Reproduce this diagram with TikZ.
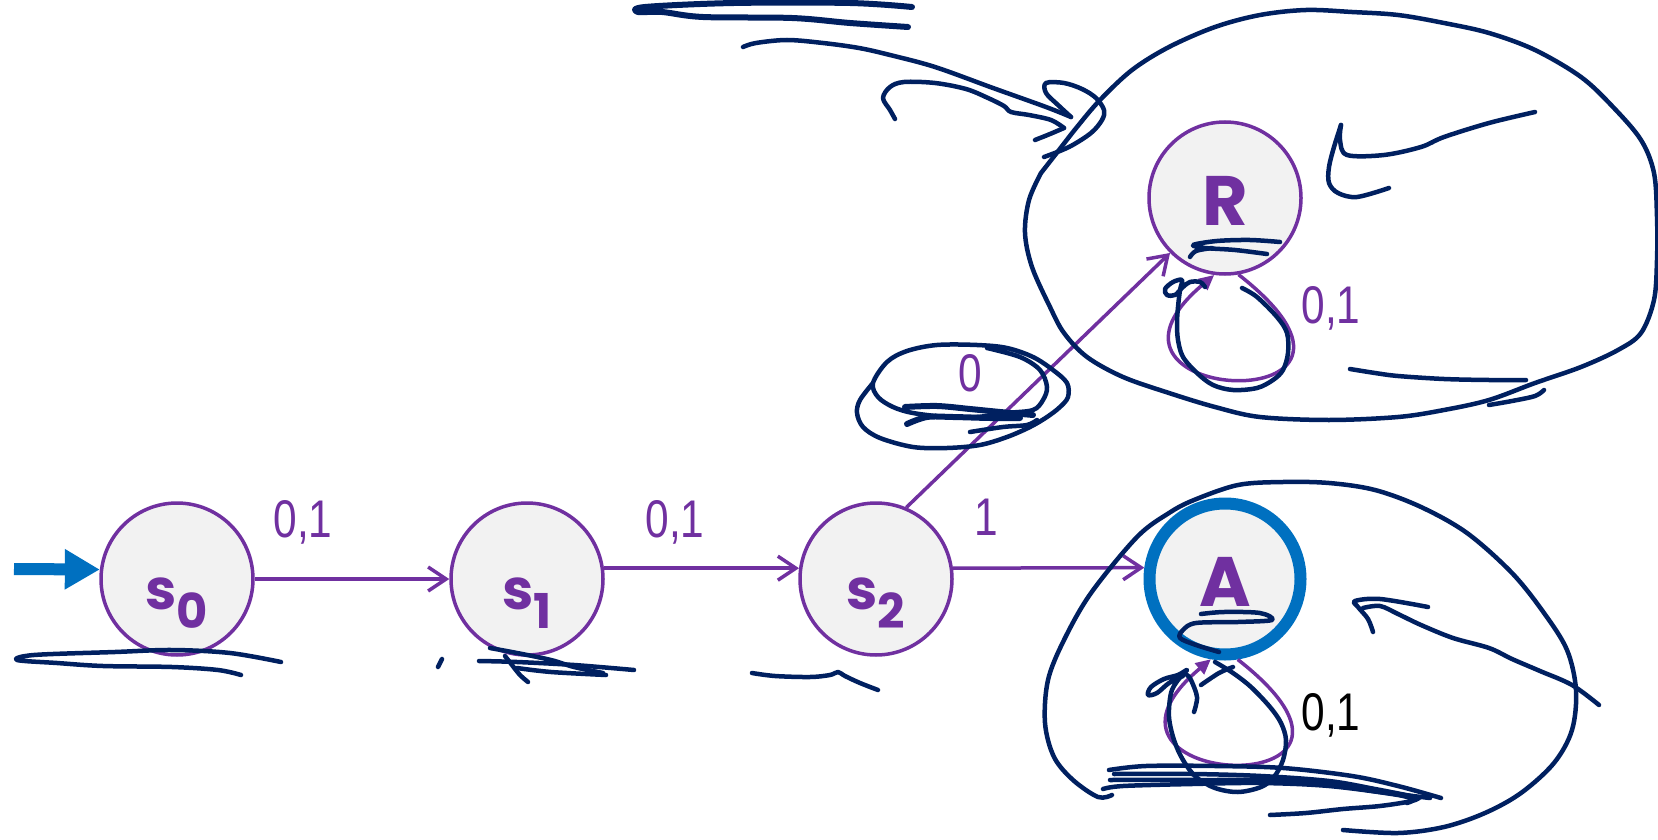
\documentclass[tikz,border=0pt]{standalone}
\usepackage{fontspec}
\setmainfont{Liberation Sans}
\newfontfamily\lblfont{Liberation Sans}[FakeStretch=0.8]
\newfontfamily\statefont{Poppins}
\usetikzlibrary{arrows.meta}
\definecolor{stpurple}{HTML}{7030A0}
\definecolor{stblue}{HTML}{0070C0}
\definecolor{stfill}{HTML}{F2F2F2}
\definecolor{navyink}{HTML}{002060}
\newcommand{\stname}[2]{\raisebox{-30pt}[0pt][0pt]{\fontsize{56}{60}\selectfont #1\raisebox{-19pt}{\fontsize{48}{50}\selectfont #2}}}
\newcommand{\stbig}[1]{\raisebox{-27pt}[0pt][0pt]{\fontsize{70}{80}\selectfont #1}}
\tikzset{
  state/.style={circle,draw=stpurple,line width=3.5pt,fill=stfill,minimum size=152pt,inner sep=0pt,text=stpurple,font=\statefont\bfseries},
  finalstate/.style={state,draw=stblue,line width=12pt,minimum size=151pt},
  trans/.style={draw=stpurple,line width=3.5pt,-{Straight Barb[length=18pt,width=24pt]}},
  loopedge/.style={draw=stpurple,line width=3.5pt,-{Triangle[length=15pt,width=14pt]}},
  initarrow/.style={draw=stblue,line width=12pt,-{Triangle[length=35pt,width=38pt]}},
  lbl/.style={text=stpurple,font=\lblfont\fontsize{53}{60}\selectfont,anchor=base,inner sep=0pt},
  scrib/.style={draw=navyink,line width=4.5pt,line cap=round,line join=round,smooth,tension=0.55},
  heavy/.style={scrib,line width=6pt}
}
\begin{document}
\begin{tikzpicture}[x=1pt,y=1pt]
\useasboundingbox[fill=white] (0,0) rectangle (1658,-840);
% states
\node[state] (s0) at (177,-579) {\stname{s}{0}};
\node[state] (s1) at (527,-579) {\stname{s}{1}};
\node[state] (s2) at (876,-579) {\stname{s}{2}};
\node[state] (R) at (1225,-198) {\stbig{R}};
\node[finalstate] (A) at (1225,-579) {\stbig{A}};
% transitions
\coordinate (start) at (14,-569);
\draw[initarrow] (start) -- (s0.173);
\draw[trans] (s0) -- (s1);
\draw[trans] (s1.8) -- (s2.172);
\draw[trans] (s2.8) -- (A.172);
\draw[trans] (s2.67) -- (R.225);
\draw[loopedge] (R.-80) .. controls +(-38:240) and +(-140:205) .. (R.-98);
\draw[loopedge] (A.-81) .. controls +(-38:240) and +(-140:205) .. (A.-100);
\node[lbl] (l01) at (303,-537) {0,1};
\node[lbl] (l12) at (675,-537) {0,1};
\node[lbl] (l2a) at (986,-535) {1};
\node[lbl] (l2r) at (970,-391) {0};
\node[lbl] (lr) at (1331,-323) {0,1};
\node[lbl,text=black] (la) at (1331,-730) {0,1};
% pen strokes, top left of R
\draw[heavy] plot coordinates {(912,-7)(850,-3)(734,-3)(645,-7)(638,-12)(662,-12)(703,-17)(792,-18)(850,-23)(908,-27)};
\draw[scrib] plot coordinates {(743,-47)(756,-43)(787,-40)(823,-43)(859,-48)(890,-55)(935,-67)(993,-88)(1046,-107)(1071,-117)};
\draw[scrib] plot coordinates {(1071,-117)(1058,-105)(1046,-93)(1046,-83)(1064,-83)(1082,-89)(1096,-98)(1104,-110)(1102,-120)(1091,-133)(1069,-147)(1044,-157)};
\draw[scrib] plot coordinates {(895,-119)(890,-110)(883,-98)(890,-87)(904,-82)(935,-83)(966,-89)(988,-98)(1004,-106)(1011,-112)(1029,-115)(1051,-120)(1064,-128)};
\draw[scrib] plot coordinates {(1064,-128)(1050,-134)(1035,-140)};
% loop round R
\draw[scrib] plot coordinates {(1041,-173)(1059,-150)(1077,-127)(1100,-100)(1132,-70)(1169,-47)(1215,-27)(1260,-15)(1306,-10)(1352,-12)(1398,-15)(1444,-23)(1489,-33)(1535,-50)(1581,-77)(1613,-107)(1641,-140)(1654,-173)(1657,-217)(1657,-260)(1654,-300)(1641,-333)(1618,-350)(1581,-367)(1535,-383)(1489,-400)(1444,-410)(1398,-417)(1329,-420)(1260,-417)(1215,-407)(1169,-393)(1123,-377)(1087,-357)(1064,-333)(1050,-307)(1032,-267)(1025,-233)(1029,-200)(1041,-173)};
\draw[scrib] plot coordinates {(1389,-188)(1357,-197)(1338,-193)(1329,-183)(1329,-167)(1334,-147)(1341,-125)};
\draw[scrib] plot coordinates {(1341,-125)(1340,-140)(1347,-155)(1384,-155)(1421,-147)(1444,-137)(1489,-123)(1535,-112)};
\draw[scrib] plot coordinates {(1350,-369)(1375,-373)(1398,-376)(1444,-379)(1489,-380)(1526,-380)};
\draw[scrib] plot coordinates {(1544,-390)(1535,-396)(1512,-401)(1489,-405)};
\draw[scrib] plot coordinates {(1280,-242)(1250,-240)(1217,-241)(1193,-245)(1205,-248)(1235,-250)(1267,-254)};
\draw[scrib] plot coordinates {(1190,-257)(1196,-251)(1212,-248)};
\draw[scrib] plot coordinates {(1242,-288)(1257,-297)(1277,-317)(1287,-333)(1288,-353)(1283,-370)(1273,-380)(1257,-388)(1233,-390)(1213,-385)(1197,-373)(1183,-357)(1178,-340)(1177,-323)(1178,-307)(1180,-290)(1182,-280)(1173,-282)(1165,-289)(1167,-295)(1175,-295)(1183,-287)(1190,-282)(1200,-282)(1205,-287)};
% ring round the 0
\draw[scrib] plot coordinates {(987,-348)(1020,-357)(1040,-370)(1047,-387)(1043,-400)(1033,-410)(1007,-413)(977,-417)(947,-417)(913,-413)(893,-407)(878,-397)(873,-383)(887,-362)(907,-351)(937,-345)(977,-345)(1007,-348)(1033,-357)(1053,-370)(1067,-383)(1068,-397)(1060,-407)(1047,-417)(1030,-427)(1007,-437)(980,-445)(947,-448)(913,-447)(880,-438)(863,-427)(857,-413)(860,-400)(873,-383)};
\draw[heavy] plot coordinates {(905,-407)(937,-406)(970,-409)(1000,-412)(1033,-415)};
\draw[heavy] plot coordinates {(907,-424)(927,-417)(953,-417)(990,-418)(1020,-418)};
\draw[scrib] plot coordinates {(970,-432)(1003,-427)(1027,-425)(1037,-420)};
% strokes under s0, s1, s2
\draw[scrib] plot coordinates {(281,-662)(230,-653)(172,-650)(115,-652)(34,-655)(17,-660)(57,-663)(103,-666)(172,-667)(218,-670)(241,-675)};
\draw[scrib] plot coordinates {(442,-659)(438,-667)};
\draw[scrib] plot coordinates {(603,-673)(574,-667)(551,-660)(517,-653)(490,-648)};
\draw[scrib] plot coordinates {(479,-661)(517,-662)(574,-665)(634,-670)};
\draw[scrib] plot coordinates {(505,-656)(512,-665)(520,-675)(528,-682)};
\draw[scrib] plot coordinates {(517,-668)(551,-672)(606,-675)};
\draw[scrib] plot coordinates {(752,-673)(775,-676)(810,-677)(830,-675)(838,-672)(845,-676)(860,-683)(878,-690)};
% loop round A
\draw[scrib] plot coordinates {(1112,-795)(1098,-797)(1073,-780)(1054,-757)(1045,-723)(1048,-680)(1064,-640)(1091,-593)(1137,-537)(1169,-513)(1194,-500)(1238,-485)(1283,-482)(1329,-483)(1375,-490)(1421,-507)(1467,-533)(1512,-573)(1544,-613)(1567,-650)(1576,-690)(1572,-730)(1554,-763)(1521,-793)(1485,-813)(1444,-827)(1398,-833)(1343,-830)};
\draw[scrib] plot coordinates {(1373,-632)(1368,-619)(1358,-607)(1355,-601)(1380,-599)(1428,-607)};
\draw[scrib] plot coordinates {(1363,-608)(1380,-606)(1398,-614)(1421,-625)(1453,-638)(1489,-648)(1512,-659)(1540,-671)(1572,-685)(1599,-705)};
\draw[scrib] plot coordinates {(1270,-815)(1306,-813)(1343,-809)(1380,-806)(1412,-801)(1420,-797)};
\draw[scrib] plot coordinates {(1109,-770)(1146,-766)(1215,-766)(1283,-768)(1352,-776)(1398,-786)(1441,-798)};
\draw[scrib] plot coordinates {(1114,-774)(1192,-774)(1261,-776)(1329,-781)(1375,-789)(1416,-797)};
\draw[scrib] plot coordinates {(1110,-780)(1200,-780)(1300,-781)(1380,-792)(1430,-798)};
\draw[scrib] plot coordinates {(1103,-789)(1123,-786)(1192,-784)(1261,-783)(1329,-786)(1398,-795)(1412,-800)(1407,-803)};
\draw[scrib] plot coordinates {(1215,-662)(1233,-673)(1251,-687)(1270,-707)(1281,-723)(1286,-740)(1283,-760)(1274,-777)(1261,-787)(1238,-792)(1215,-788)(1196,-777)(1183,-760)(1174,-740)(1169,-717)(1171,-693)(1178,-680)(1187,-670)(1178,-675)(1164,-679)(1151,-687)(1148,-695)(1157,-693)(1169,-683)(1183,-676)};
\draw[scrib] plot coordinates {(1194,-712)(1197,-697)(1191,-680)(1187,-675)};
\draw[scrib] plot coordinates {(1201,-685)(1219,-673)(1233,-667)};
\draw[scrib] plot coordinates {(1201,-614)(1224,-612)(1260,-613)(1272,-620)(1238,-622)(1196,-623)(1183,-630)(1180,-638)(1196,-645)(1219,-652)};
\end{tikzpicture}
\end{document}
